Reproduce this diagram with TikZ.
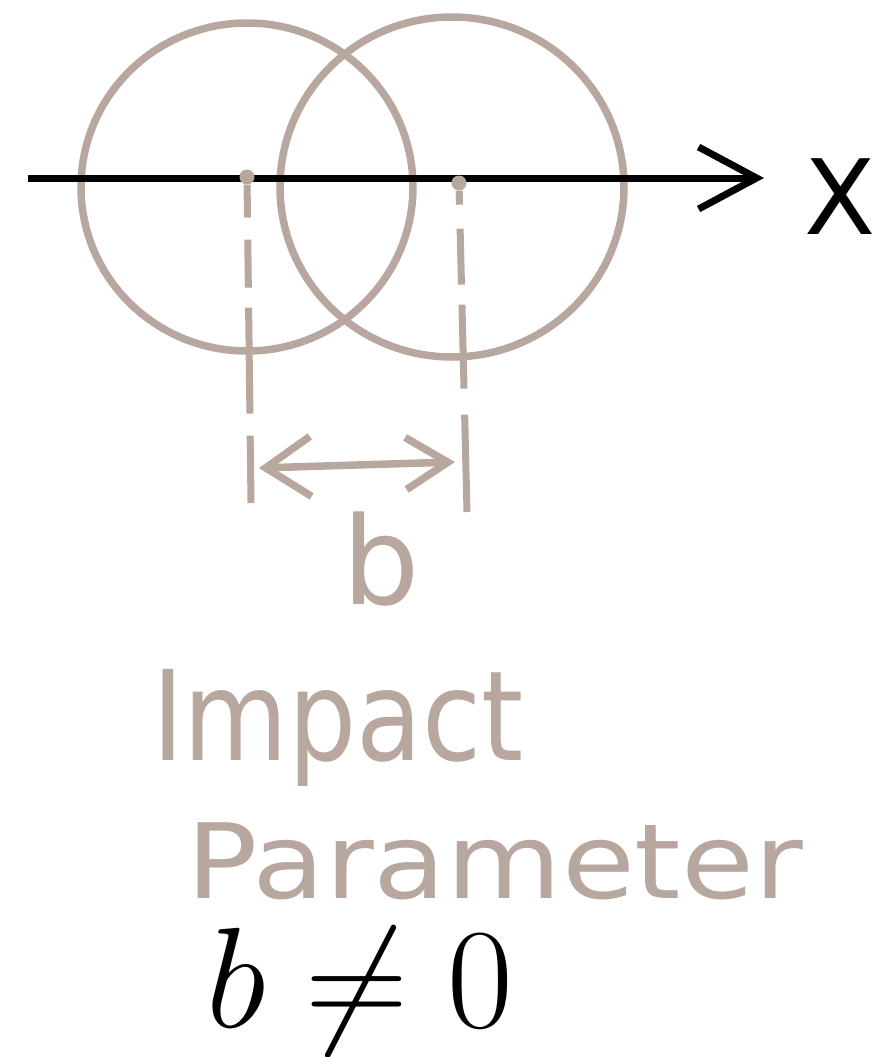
\RequirePackage{fix-cm}
\documentclass[tikz,border=0pt]{standalone}
\usepackage{fontspec}
\setsansfont{DejaVu Sans}
\usepackage{tikz}
\usetikzlibrary{positioning, arrows.meta}
\definecolor{sketch}{RGB}{184,167,159}

\begin{document}
\begin{tikzpicture}[
    x=1pt, y=-1pt,
    ring/.style={draw=sketch, line width=7.5pt},
    dot/.style={circle, fill=sketch, inner sep=0pt, minimum size=15pt},
    guide/.style={draw=sketch, line width=7pt},
    axis/.style={draw=black, line width=7pt},
    hand/.style={text=sketch, font=\sffamily\fontsize{#1}{#1}\selectfont, inner sep=0pt}
]
    \useasboundingbox (0,0) rectangle (882,1057);

    % Circles
    \draw[ring] (247,187) ellipse [x radius=166, y radius=164];
    \draw[ring] (452,187) ellipse [x radius=172, y radius=170];

    % Axis
    \coordinate (xstart) at (28,178);
    \coordinate (xend) at (764,178);
    \draw[axis, -{Straight Barb[length=58pt, width=62pt]}] (xstart) -- (xend);
    \node[font=\sffamily\fontsize{104}{104}\selectfont, inner sep=0pt, anchor=base] (xlab) at (840,234) {X};

    % Centres
    \node[dot] (c1) at (247,177) {};
    \node[dot] (c2) at (459,183) {};

    % Guides
    \coordinate (g1) at (251,503);
    \coordinate (g2) at (467,512);
    \draw[guide, dash pattern=on 33pt off 22pt on 48pt off 20pt on 106pt off 22pt on 80pt off 0pt] (c1) -- (g1);
    \draw[guide, dash pattern=on 14pt off 24pt on 56pt off 20pt on 84pt off 26pt on 90pt off 0pt] (c2) -- (g2);

    % Distance b
    \coordinate (bl) at (259,468);
    \coordinate (br) at (455,462);
    \draw[ring, {Straight Barb[length=45pt, width=60pt]}-{Straight Barb[length=42pt, width=52pt]}] (bl) -- (br);
    \node[hand=122, anchor=base] (blab) at (381,604) {b};

    % Labels
    \node[hand=125, anchor=base west] (impact) at (152,760) {\addfontfeature{FakeStretch=0.86}Impact};
    \node[hand=104, anchor=base west] (param) at (186,898) {\addfontfeature{FakeStretch=1.14}Parameter};
    \node[inner sep=0pt, anchor=base, font=\fontsize{143}{143}\selectfont] (cond) at (360,1027) {$b\neq 0$};
\end{tikzpicture}
\end{document}
